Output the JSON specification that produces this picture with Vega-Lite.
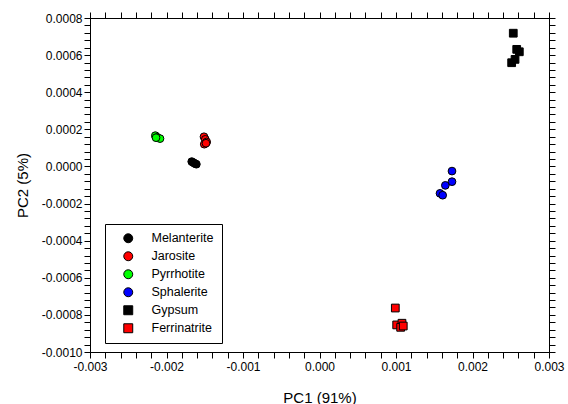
{
  "$schema": "https://vega.github.io/schema/vega-lite/v6.json",
  "width": 459,
  "height": 334,
  "autosize": {"type": "none"},
  "padding": {"left": 90, "top": 18, "right": 19, "bottom": 52},
  "background": "white",
  "config": {
    "view": {"stroke": "black", "strokeWidth": 1},
    "axis": {
      "grid": false,
      "ticks": true,
      "tickSize": 6,
      "domainColor": "black",
      "tickColor": "black",
      "labelColor": "black",
      "titleColor": "black",
      "labelFont": "Liberation Sans",
      "titleFont": "Liberation Sans",
      "labelFontSize": 12,
      "titleFontSize": 15,
      "titleFontWeight": "normal",
      "labelOverlap": false,
      "labelFlush": false
    },
    "legend": {
      "labelFont": "Liberation Sans",
      "labelFontSize": 12.5,
      "labelColor": "black"
    }
  },
  "data": {
    "values": [
      {"mineral": "Melanterite", "pc1": -0.00167, "pc2": 0.000026},
      {"mineral": "Melanterite", "pc1": -0.00165, "pc2": 0.000021},
      {"mineral": "Melanterite", "pc1": -0.00163, "pc2": 0.000016},
      {"mineral": "Melanterite", "pc1": -0.00161, "pc2": 0.000012},
      {"mineral": "Jarosite", "pc1": -0.00151, "pc2": 0.00016},
      {"mineral": "Jarosite", "pc1": -0.001493, "pc2": 0.000146},
      {"mineral": "Jarosite", "pc1": -0.001475, "pc2": 0.000132},
      {"mineral": "Jarosite", "pc1": -0.001506, "pc2": 0.00012},
      {"mineral": "Jarosite", "pc1": -0.001484, "pc2": 0.000125},
      {"mineral": "Pyrrhotite", "pc1": -0.002146, "pc2": 0.000166},
      {"mineral": "Pyrrhotite", "pc1": -0.00212, "pc2": 0.000157},
      {"mineral": "Pyrrhotite", "pc1": -0.002085, "pc2": 0.00015},
      {"mineral": "Pyrrhotite", "pc1": -0.002137, "pc2": 0.000155},
      {"mineral": "Sphalerite", "pc1": 0.001732, "pc2": -0.000025},
      {"mineral": "Sphalerite", "pc1": 0.001732, "pc2": -0.000082},
      {"mineral": "Sphalerite", "pc1": 0.001645, "pc2": -0.000102},
      {"mineral": "Sphalerite", "pc1": 0.001575, "pc2": -0.000145},
      {"mineral": "Sphalerite", "pc1": 0.00161, "pc2": -0.000155},
      {"mineral": "Gypsum", "pc1": 0.002533, "pc2": 0.000718},
      {"mineral": "Gypsum", "pc1": 0.002578, "pc2": 0.000631},
      {"mineral": "Gypsum", "pc1": 0.002612, "pc2": 0.000618},
      {"mineral": "Gypsum", "pc1": 0.002556, "pc2": 0.000577},
      {"mineral": "Gypsum", "pc1": 0.002512, "pc2": 0.000559},
      {"mineral": "Ferrinatrite", "pc1": 0.000991, "pc2": -0.000763},
      {"mineral": "Ferrinatrite", "pc1": 0.001009, "pc2": -0.000854},
      {"mineral": "Ferrinatrite", "pc1": 0.001078, "pc2": -0.000845},
      {"mineral": "Ferrinatrite", "pc1": 0.001061, "pc2": -0.000867},
      {"mineral": "Ferrinatrite", "pc1": 0.001095, "pc2": -0.00086}
    ]
  },
  "resolve": {"axis": {"x": "independent", "y": "independent"}},
  "layer": [
    {
      "mark": {"type": "point", "filled": true, "stroke": "black", "strokeWidth": 1, "opacity": 1},
      "encoding": {
        "x": {
          "field": "pc1", "type": "quantitative",
          "scale": {"domain": [-0.003, 0.003], "nice": false, "zero": false},
          "axis": {
            "orient": "bottom",
            "title": "PC1 (91%)",
            "titleX": 229.5,
            "titleY": 45,
            "titleBaseline": "middle",
            "values": [-0.003,-0.0028,-0.0026,-0.0024,-0.0022,-0.002,-0.0018,-0.0016,-0.0014,-0.0012,-0.001,-0.0008,-0.0006,-0.0004,-0.0002,0,0.0002,0.0004,0.0006,0.0008,0.001,0.0012,0.0014,0.0016,0.0018,0.002,0.0022,0.0024,0.0026,0.0028,0.003],
            "labelExpr": "round(datum.value/0.0002) % 5 == 0 ? replace(format(datum.value, '.3f'), '−', '-') : ''",
            "labelPadding": 3,
            "encode": {"ticks": {"update": {"y2": {"signal": "round(datum.value/0.0002) % 5 == 0 ? -6 : -3"}}}}
          }
        },
        "y": {
          "field": "pc2", "type": "quantitative",
          "scale": {"domain": [-0.001, 0.0008], "nice": false, "zero": false},
          "axis": {
            "orient": "left",
            "title": "PC2 (5%)",
            "titleX": -68,
            "titleY": 167,
            "titleBaseline": "middle",
            "values": [-0.001,-0.00096,-0.00092,-0.00088,-0.00084,-0.0008,-0.00076,-0.00072,-0.00068,-0.00064,-0.0006,-0.00056,-0.00052,-0.00048,-0.00044,-0.0004,-0.00036,-0.00032,-0.00028,-0.00024,-0.0002,-0.00016,-0.00012,-0.00008,-0.00004,0,0.00004,0.00008,0.00012,0.00016,0.0002,0.00024,0.00028,0.00032,0.00036,0.0004,0.00044,0.00048,0.00052,0.00056,0.0006,0.00064,0.00068,0.00072,0.00076,0.0008],
            "labelExpr": "round(datum.value/0.00004) % 5 == 0 ? replace(format(datum.value, '.4f'), '−', '-') : ''",
            "labelPadding": 2,
            "encode": {"ticks": {"update": {"x2": {"signal": "round(datum.value/0.00004) % 5 == 0 ? 6 : 3"}}}}
          }
        },
        "fill": {
          "field": "mineral", "type": "nominal",
          "scale": {
            "domain": ["Melanterite", "Jarosite", "Pyrrhotite", "Sphalerite", "Gypsum", "Ferrinatrite"],
            "range": ["#000000", "#ff0000", "#00ff00", "#0000ff", "#000000", "#ff0000"]
          },
          "legend": {
            "orient": "none",
            "legendX": 15,
            "legendY": 206,
            "title": null,
            "fillColor": "white",
            "strokeColor": "black",
            "padding": 8,
            "rowPadding": 4,
            "symbolOffset": 9,
            "labelOffset": 17,
            "symbolSize": 80,
            "symbolStrokeColor": "black",
            "symbolStrokeWidth": 1
          }
        },
        "shape": {
          "field": "mineral", "type": "nominal",
          "scale": {
            "domain": ["Melanterite", "Jarosite", "Pyrrhotite", "Sphalerite", "Gypsum", "Ferrinatrite"],
            "range": ["circle", "circle", "circle", "circle", "square", "square"]
          }
        },
        "size": {"value": 60}
      }
    },
    {
      "mark": {"type": "point", "opacity": 0},
      "encoding": {
        "x": {
          "field": "pc1", "type": "quantitative",
          "scale": {"domain": [-0.003, 0.003], "nice": false, "zero": false},
          "axis": {
            "orient": "top",
            "title": null,
            "labels": false,
            "values": [-0.003,-0.0028,-0.0026,-0.0024,-0.0022,-0.002,-0.0018,-0.0016,-0.0014,-0.0012,-0.001,-0.0008,-0.0006,-0.0004,-0.0002,0,0.0002,0.0004,0.0006,0.0008,0.001,0.0012,0.0014,0.0016,0.0018,0.002,0.0022,0.0024,0.0026,0.0028,0.003],
            "encode": {"ticks": {"update": {"y2": {"signal": "round(datum.value/0.0002) % 5 == 0 ? 6 : 3"}}}}
          }
        },
        "y": {
          "field": "pc2", "type": "quantitative",
          "scale": {"domain": [-0.001, 0.0008], "nice": false, "zero": false},
          "axis": {
            "orient": "right",
            "title": null,
            "labels": false,
            "values": [-0.001,-0.00096,-0.00092,-0.00088,-0.00084,-0.0008,-0.00076,-0.00072,-0.00068,-0.00064,-0.0006,-0.00056,-0.00052,-0.00048,-0.00044,-0.0004,-0.00036,-0.00032,-0.00028,-0.00024,-0.0002,-0.00016,-0.00012,-0.00008,-0.00004,0,0.00004,0.00008,0.00012,0.00016,0.0002,0.00024,0.00028,0.00032,0.00036,0.0004,0.00044,0.00048,0.00052,0.00056,0.0006,0.00064,0.00068,0.00072,0.00076,0.0008],
            "encode": {"ticks": {"update": {"x2": {"signal": "round(datum.value/0.00004) % 5 == 0 ? -6 : -3"}}}}
          }
        }
      }
    }
  ]
}
